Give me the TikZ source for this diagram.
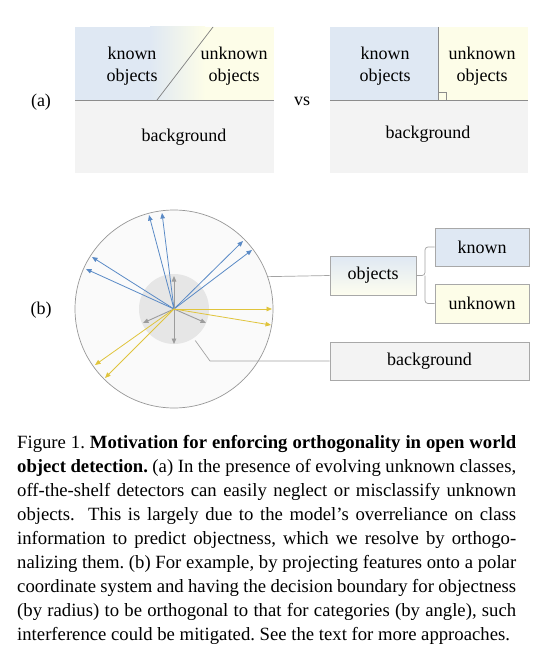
\documentclass[tikz,border=0pt]{standalone}
\usepackage{fontspec}
\setmainfont{Liberation Serif}
\usetikzlibrary{arrows.meta,calc}
\definecolor{kblue}{HTML}{DFE8F3}
\definecolor{uyel}{HTML}{FDFDE8}
\definecolor{bgg}{HTML}{F3F3F3}
\definecolor{edgeg}{HTML}{A8A8A8}
\definecolor{sepg}{HTML}{8C8C8C}
\definecolor{arblue}{HTML}{5A8AC6}
\definecolor{aryel}{HTML}{E0C43C}
\definecolor{argray}{HTML}{9C9C9C}
\definecolor{circfill}{HTML}{FAFAFA}
\definecolor{corefill}{HTML}{E6E6E6}
\frenchspacing
\begin{document}
\begin{tikzpicture}[x=1pt,y=-1pt,
  lab/.style={font=\fontsize{18}{22}\selectfont, inner sep=0pt, align=center},
  catbox/.style={draw=edgeg, line width=0.7pt, inner sep=0pt, font=\fontsize{18}{22}\selectfont},
  conn/.style={draw=sepg!80, line width=0.7pt},
  vec/.style={line width=0.8pt, -{Triangle[length=5.5pt,width=4.5pt]}},
  bvec/.style={vec, arblue},
  yvec/.style={vec, aryel},
  gvec/.style={vec, argray, line width=0.9pt}]
\useasboundingbox (0,0) rectangle (543,647);
\fill[white] (0,0) rectangle (543,647);

% ---------- panel (a), left ----------
\fill[bgg] (75,100) rectangle (274,173);
\fill[kblue] (75,27) rectangle (150,100);
\shade[left color=kblue, right color=uyel] (150,27) rectangle (205,100);
\fill[uyel] (205,27) rectangle (274,100);
\draw[sepg, line width=0.8pt] (75,100) -- (274,100);
\coordinate (dA) at (157,100);
\coordinate (dB) at (213,27);
\draw[sepg!90!black, line width=0.7pt] (dA) -- (dB);
\node[lab] (aknown) at (132,66) {known\\objects};
\node[lab] (aunknown) at (234,66) {unknown\\objects};
\node[lab] (aback) at (184,137) {background};
\node[lab] (alabel) at (41,102) {(a)};
\node[lab] (vs) at (302,101) {vs};

% ---------- panel (a), right ----------
\fill[bgg] (330,100) rectangle (528,173);
\fill[kblue] (330,27) rectangle (438,100);
\fill[uyel] (438,27) rectangle (528,100);
\draw[sepg, line width=0.8pt] (330,100) -- (528,100);
\draw[sepg, line width=0.8pt] (438,27) -- (438,100);
\draw[sepg, line width=0.6pt] (438,92) -- (446,92) -- (446,100);
\node[lab] (bknown) at (385,66) {known\\objects};
\node[lab] (bunknown) at (482,66) {unknown\\objects};
\node[lab] (bback) at (428,134) {background};

% ---------- panel (b) ----------
\node[lab] (blabel) at (41,310) {(b)};
\node[circle, draw=sepg!90, fill=circfill, line width=0.7pt, minimum size=198pt, inner sep=0pt] (circ) at (174,309) {};
\node[circle, fill=corefill, minimum size=70pt, inner sep=0pt] (core) at (174,309) {};
\coordinate (O) at (174,309);

% blue vectors
\foreach \p in {(149,215),(162,213),(243,241),(252,250),(92,257),(86,269)}
  \draw[bvec] (O) -- \p;
% gray vectors
\foreach \p in {(174,276),(143,323),(206,323),(174,344)}
  \draw[gvec] (O) -- \p;
% yellow vectors
\foreach \p in {(272,309),(271,325),(95,365),(105,378)}
  \draw[yvec] (O) -- \p;

% boxes
\node[catbox, top color=kblue, bottom color=uyel!70!white, minimum width=86pt, minimum height=39pt] (objects) at (373,275.5) {objects};
\node[catbox, fill=kblue, minimum width=94pt, minimum height=38pt] (known) at (482,247) {known};
\node[catbox, fill=uyel, minimum width=94pt, minimum height=39pt] (unknown) at (482,303.5) {unknown};
\node[catbox, fill=bgg, minimum width=199pt, minimum height=38pt] (background) at (429.5,361) {background};

% connectors
\draw[conn] (circ.19.8) -- (objects.west);
\coordinate (bk) at (210,361);
\draw[conn] ($(core.center)!1.08!(core.-56)$) -- (bk) -- (background.west);
\coordinate (br) at (425,275.5);
\draw[conn, rounded corners=3pt] (objects.east) -- (br) |- (known.west);
\draw[conn, rounded corners=3pt] (br) |- (unknown.west);

% ---------- caption ----------
\node[anchor=north west, inner sep=0pt, text width=499pt, align=justify,
      font=\fontsize{18.7}{24}\selectfont] (caption) at (17,435) {%
Figure 1. \textbf{Motivation for enforcing orthogonality in open world}\linebreak
\textbf{object detection.} (a) In the presence of evolving unknown classes,\linebreak
off-the-shelf detectors can easily neglect or misclassify unknown\linebreak
objects.\ \ This is largely due to the model’s overreliance on class\linebreak
information to predict objectness, which we resolve by orthogo-\linebreak
nalizing them. (b) For example, by projecting features onto a polar\linebreak
coordinate system and having the decision boundary for objectness\linebreak
(by radius) to be orthogonal to that for categories (by angle), such\linebreak
interference could be mitigated. See the text for more approaches.};
\end{tikzpicture}
\end{document}
